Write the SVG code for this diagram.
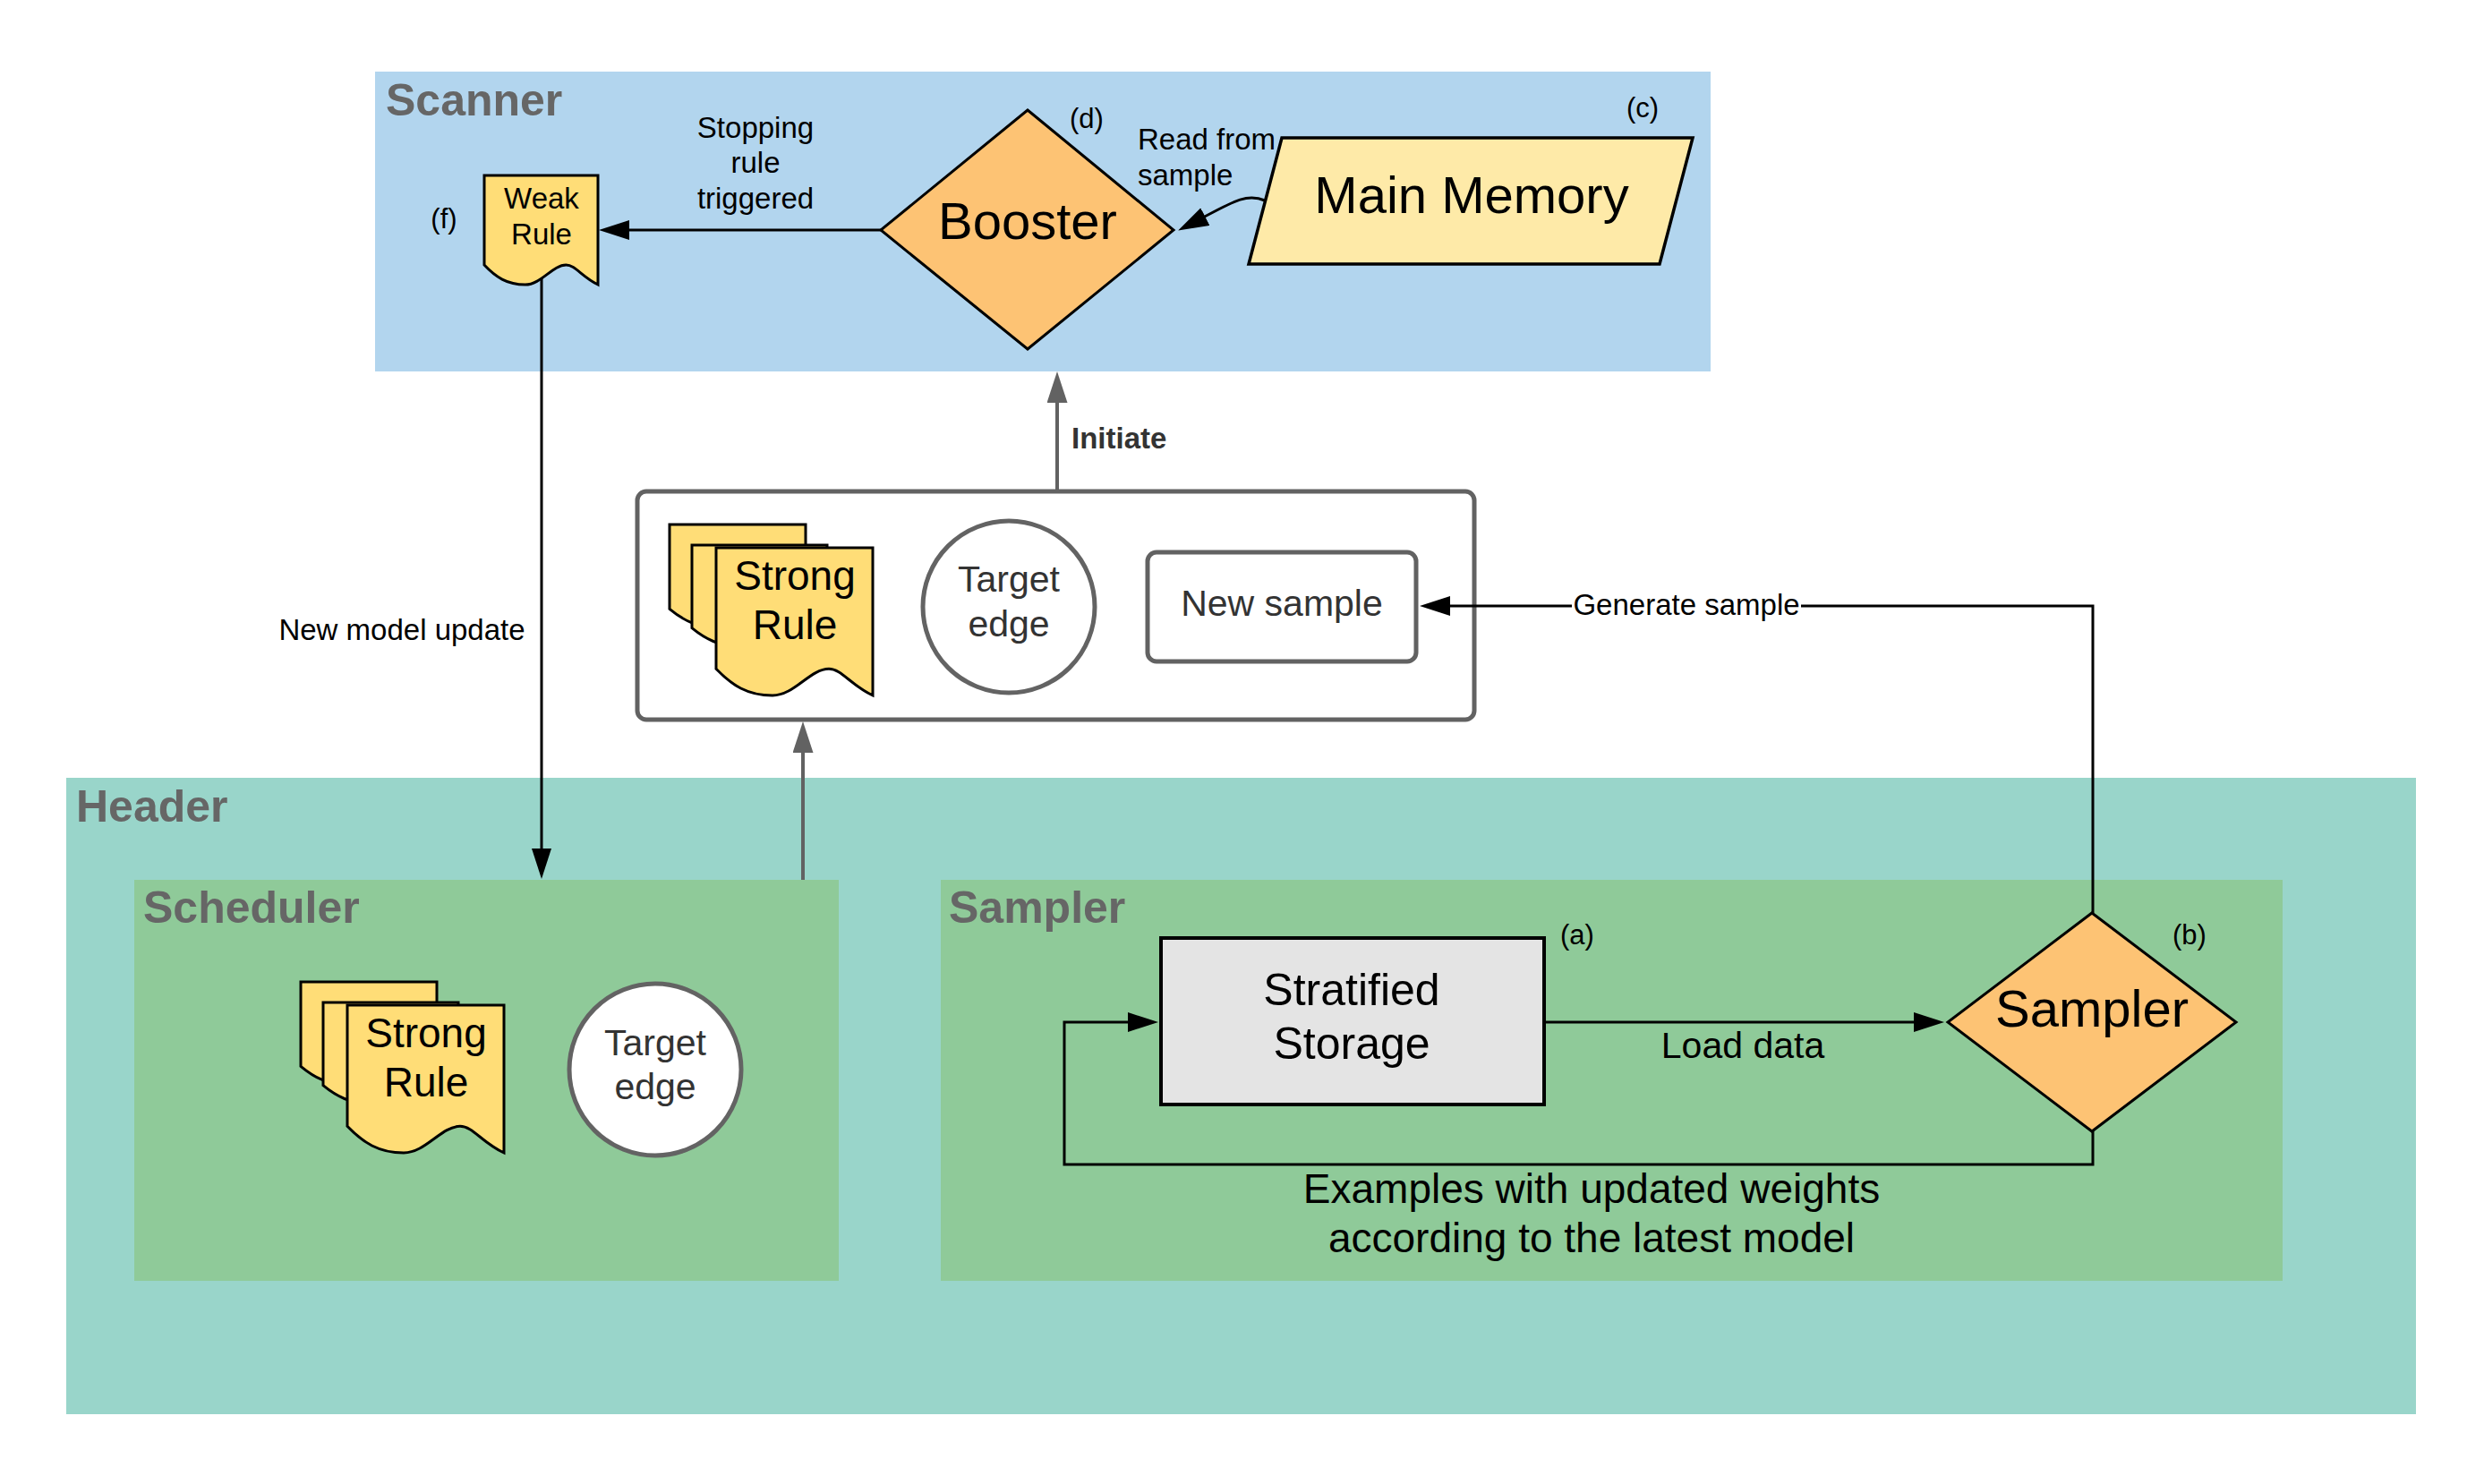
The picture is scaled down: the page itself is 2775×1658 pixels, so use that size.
<svg xmlns="http://www.w3.org/2000/svg" width="2775" height="1658" viewBox="0 0 2775 1658">
<style>
text{font-family:"Liberation Sans",Arial,sans-serif;}
.head{font-size:50px;font-weight:bold;fill:#666666;}
.lbl{font-size:33px;fill:#000;}
.tag{font-size:31px;fill:#000;}
.big{font-size:58px;fill:#000;text-anchor:middle;}
.doc{fill:#ffdd77;stroke:#000;stroke-width:3;stroke-linejoin:miter;}
.circ{fill:#ffffff;stroke:#636363;stroke-width:5;}
.ctr{text-anchor:middle;}
.blk{fill:none;stroke:#000;stroke-width:3;}
.gry{fill:none;stroke:#626262;stroke-width:4;}
</style>
<defs>
<marker id="ab" markerUnits="userSpaceOnUse" markerWidth="36" markerHeight="24" refX="24" refY="11" orient="auto"><path d="M0,0 L34,11 L0,22 Z" fill="#000"/></marker>
<marker id="ag" markerUnits="userSpaceOnUse" markerWidth="36" markerHeight="24" refX="24" refY="11.5" orient="auto"><path d="M0,0 L35,11.5 L0,23 Z" fill="#626262"/></marker>
</defs>
<rect width="2775" height="1658" fill="#ffffff"/>

<g id="scanner">
<rect x="419" y="80" width="1492" height="335" fill="#b2d5ee"/>
<text class="head" x="431" y="129">Scanner</text>
</g>
<g id="header">
<rect x="74" y="869" width="2625" height="711" fill="#99d5ca"/>
<text class="head" x="85" y="918">Header</text>
</g>
<g id="scheduler">
<rect x="150" y="983" width="787" height="448" fill="#8fca99"/>
<text class="head" x="160" y="1031">Scheduler</text>
</g>
<g id="sampler-group">
<rect x="1051" y="983" width="1499" height="448" fill="#8fca99"/>
<text class="head" x="1060" y="1031">Sampler</text>
</g>

<g id="state-box">
<rect x="712" y="549" width="935" height="255" rx="10" fill="#ffffff" stroke="#626262" stroke-width="5"/>
</g>

<g id="connectors">
<path class="blk" d="M984,257 H679" marker-end="url(#ab)"/>
<path class="blk" d="M1413,224 C1390,214 1372,229 1325,253" marker-end="url(#ab)"/>
<path class="blk" d="M605,309 V972" marker-end="url(#ab)"/>
<path class="gry" d="M897,983 V817" marker-end="url(#ag)"/>
<path class="gry" d="M1181,547 V426" marker-end="url(#ag)"/>
<path class="blk" d="M2338,1020 V677 H1596" marker-end="url(#ab)"/>
<path class="blk" d="M1725,1142 H2162" marker-end="url(#ab)"/>
<path class="blk" d="M2338,1264 V1301 H1189 V1142 H1284" marker-end="url(#ab)"/>
<rect x="1756" y="657" width="256" height="38" fill="#ffffff"/>
<text class="lbl ctr" x="1884" y="687">Generate sample</text>
<text class="lbl ctr" x="844" y="154">Stopping</text>
<text class="lbl ctr" x="844" y="193">rule</text>
<text class="lbl ctr" x="844" y="233">triggered</text>
<text class="lbl" x="1271" y="167">Read from</text>
<text class="lbl" x="1271" y="207">sample</text>
<text class="lbl ctr" x="449" y="715">New model update</text>
<text x="1197" y="501" style="font-size:33px;font-weight:bold;fill:#333333;">Initiate</text>
<text class="ctr" x="1947" y="1182" style="font-size:41px;">Load data</text>
<text class="ctr" x="1778" y="1344" style="font-size:46px;">Examples with updated weights</text>
<text class="ctr" x="1778" y="1399" style="font-size:46px;">according to the latest model</text>
</g>

<g id="weak-rule">
<path class="doc" d="M541,196 H668 V318 C650.2,309.5 642.6,296 632.4,296 C617.2,296 604.5,318 586.7,318 C566.4,318 553.7,309.5 541,296 Z"/>
<text class="ctr" x="605" y="233" style="font-size:33px;">Weak</text>
<text class="ctr" x="605" y="273" style="font-size:33px;">Rule</text>
<text class="tag ctr" x="496" y="255">(f)</text>
</g>

<g id="booster">
<polygon points="1148,123 1311,257 1148,390 984,257" fill="#fdc374" stroke="#000" stroke-width="3"/>
<text class="big" x="1148" y="267">Booster</text>
<text class="tag ctr" x="1214" y="143">(d)</text>
</g>

<g id="main-memory">
<polygon points="1432,154 1891,154 1854,295 1395,295" fill="#feeaa8" stroke="#000" stroke-width="3.5"/>
<text class="big" x="1644" y="238">Main Memory</text>
<text class="tag ctr" x="1835" y="131">(c)</text>
</g>

<g id="strong-rule-state" transform="translate(800,612)">
<path class="doc" d="M-52,-26 H100 V89 C78.7,81 69.6,68.3 57.4,68.3 C39.2,68.3 24,89 2.7,89 C-21.6,89 -36.8,81 -52,68.3 Z"/>
<path class="doc" d="M-27,-3 H124 V110 C102.9,102.1 93.8,89.7 81.7,89.7 C63.6,89.7 48.5,110 27.4,110 C3.2,110 -11.9,102.1 -27,89.7 Z"/>
<path class="doc" d="M0,0 H175 V165 C150.5,153.5 140,135.3 126,135.3 C105,135.3 87.5,165 63,165 C35,165 17.5,153.5 0,135.3 Z"/>
<text class="ctr" x="88" y="47" style="font-size:46px;">Strong</text>
<text class="ctr" x="88" y="102" style="font-size:46px;">Rule</text>
</g>

<g id="target-edge-state">
<circle class="circ" cx="1127" cy="678" r="96"/>
<text class="ctr" x="1127" y="661" style="font-size:41px;fill:#333333;">Target</text>
<text class="ctr" x="1127" y="711" style="font-size:41px;fill:#333333;">edge</text>
</g>

<g id="new-sample">
<rect x="1282" y="617" width="300" height="122" rx="10" fill="#ffffff" stroke="#626262" stroke-width="5"/>
<text class="ctr" x="1432" y="688" style="font-size:41px;fill:#333333;">New sample</text>
</g>

<g id="strong-rule-scheduler" transform="translate(388,1123)">
<path class="doc" d="M-52,-26 H100 V89 C78.7,81 69.6,68.3 57.4,68.3 C39.2,68.3 24,89 2.7,89 C-21.6,89 -36.8,81 -52,68.3 Z"/>
<path class="doc" d="M-27,-3 H124 V110 C102.9,102.1 93.8,89.7 81.7,89.7 C63.6,89.7 48.5,110 27.4,110 C3.2,110 -11.9,102.1 -27,89.7 Z"/>
<path class="doc" d="M0,0 H175 V165 C150.5,153.5 140,135.3 126,135.3 C105,135.3 87.5,165 63,165 C35,165 17.5,153.5 0,135.3 Z"/>
<text class="ctr" x="88" y="47" style="font-size:46px;">Strong</text>
<text class="ctr" x="88" y="102" style="font-size:46px;">Rule</text>
</g>

<g id="target-edge-scheduler">
<circle class="circ" cx="732" cy="1195" r="96"/>
<text class="ctr" x="732" y="1179" style="font-size:41px;fill:#333333;">Target</text>
<text class="ctr" x="732" y="1228" style="font-size:41px;fill:#333333;">edge</text>
</g>

<g id="stratified-storage">
<rect x="1297" y="1048" width="428" height="186" fill="#e4e4e4" stroke="#000" stroke-width="4"/>
<text class="ctr" x="1510" y="1123" style="font-size:50px;">Stratified</text>
<text class="ctr" x="1510" y="1183" style="font-size:50px;">Storage</text>
<text class="tag ctr" x="1762" y="1055">(a)</text>
</g>

<g id="sampler">
<polygon points="2337,1020 2498,1142 2337,1264 2176,1142" fill="#fdc374" stroke="#000" stroke-width="3"/>
<text class="big" x="2337" y="1147">Sampler</text>
<text class="tag ctr" x="2446" y="1055">(b)</text>
</g>
</svg>
